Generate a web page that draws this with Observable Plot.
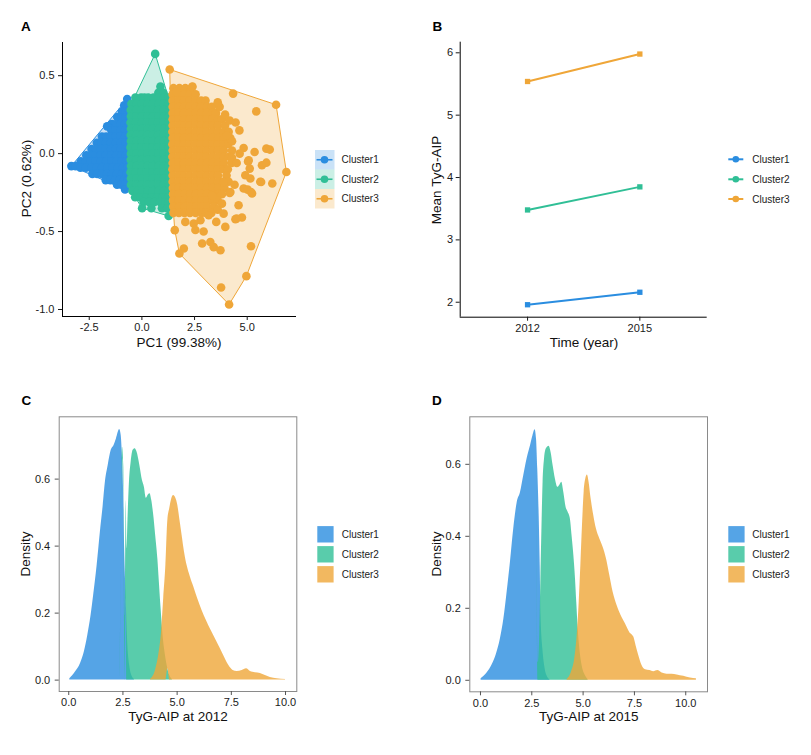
<!DOCTYPE html>
<html><head><meta charset="utf-8">
<script src="https://cdn.jsdelivr.net/npm/d3@7"></script>
<script src="https://cdn.jsdelivr.net/npm/@observablehq/plot@0.6"></script>
<style>
body{margin:0;background:#fff;}
#root{position:relative;width:811px;height:755px;background:#fff;overflow:hidden;}
.pane{position:absolute;}
#overlay{position:absolute;left:0;top:0;pointer-events:none;}
</style></head><body><div id="root"></div>
<script>
const clusters = ["Cluster1", "Cluster2", "Cluster3"];
const colors = ["#2A8DE0", "#30BF96", "#EFA638"];

// ---- Panel A: PCA scores, rows of [PC2, [PC1 values]] read from the dense masses ----
const cluster1Rows = [
  [0.35, [-0.70]],
  [0.31, [-0.84, -0.62]],
  [0.27, [-0.95, -0.78, -0.60]],
  [0.235, [-1.17]],
  [0.23, [-0.98, -0.79, -0.60]],
  [0.19, [-1.42, -1.22, -1.01, -0.80, -0.60]],
  [0.175, [-1.65]],
  [0.15, [-1.45, -1.24, -1.02, -0.80, -0.60]],
  [0.11, [-1.90, -1.70, -1.48, -1.25, -1.02, -0.80, -0.60]],
  [0.07, [-2.14, -1.93, -1.71, -1.48, -1.24, -1.00, -0.78, -0.60]],
  [0.03, [-2.39, -2.18, -1.95, -1.72, -1.47, -1.23, -0.99, -0.77, -0.60]],
  [-0.01, [-2.64, -2.43, -2.20, -1.96, -1.71, -1.46, -1.22, -0.98, -0.76, -0.60]],
  [-0.05, [-2.90, -2.68, -2.45, -2.21, -1.95, -1.70, -1.45, -1.21, -0.97, -0.75, -0.60]],
  [-0.08, [-3.35, -3.15]],
  [-0.09, [-2.92, -2.66, -2.40, -2.14, -1.89, -1.64, -1.39, -1.14, -0.90, -0.68]],
  [-0.13, [-2.35, -2.12, -1.90, -1.66, -1.42, -1.18, -0.94, -0.72]],
  [-0.17, [-1.72, -1.50, -1.28, -1.06, -0.86, -0.68]],
  [-0.20, [-1.18, -0.98, -0.80]],
  [-0.23, [-0.80]]
];
const cluster2Rows = [
  [0.64, [0.63]],
  [0.43, [0.88]],
  [0.39, [0.78, 1.02]],
  [0.36, [-0.31, -0.04, 0.12, 0.30, 0.55, 0.80, 1.05, 1.26]],
  [0.32, [-0.50, -0.26, 0.00, 0.26, 0.52, 0.78, 1.04, 1.28]],
  [0.28, [-0.53, -0.27, -0.01, 0.25, 0.51, 0.77, 1.03, 1.29]],
  [0.24, [-0.52, -0.26, 0.00, 0.26, 0.52, 0.78, 1.04, 1.28]],
  [0.20, [-0.54, -0.28, -0.02, 0.24, 0.50, 0.76, 1.02, 1.28]],
  [0.16, [-0.52, -0.26, 0.00, 0.26, 0.52, 0.78, 1.04, 1.30]],
  [0.12, [-0.53, -0.27, -0.01, 0.25, 0.51, 0.77, 1.03, 1.29]],
  [0.08, [-0.52, -0.26, 0.00, 0.26, 0.52, 0.78, 1.04, 1.28]],
  [0.04, [-0.54, -0.28, -0.02, 0.24, 0.50, 0.76, 1.02, 1.28]],
  [0.00, [-0.52, -0.26, 0.00, 0.26, 0.52, 0.78, 1.04, 1.30]],
  [-0.04, [-0.53, -0.27, -0.01, 0.25, 0.51, 0.77, 1.03, 1.29]],
  [-0.08, [-0.52, -0.26, 0.00, 0.26, 0.52, 0.78, 1.04, 1.28]],
  [-0.12, [-0.54, -0.28, -0.02, 0.24, 0.50, 0.76, 1.02, 1.28]],
  [-0.16, [-0.52, -0.26, 0.00, 0.26, 0.52, 0.78, 1.04, 1.30]],
  [-0.20, [-0.52, -0.27, -0.01, 0.25, 0.51, 0.77, 1.03, 1.29]],
  [-0.24, [-0.45, -0.22, 0.00, 0.26, 0.52, 0.78, 1.04, 1.28]],
  [-0.28, [-0.32, -0.07, 0.20, 0.46, 0.72, 0.98, 1.24]],
  [-0.31, [0.08, 0.34, 0.60, 0.86, 1.12, 1.28]],
  [-0.35, [0.01, 0.45, 0.95, 1.20]],
  [-0.40, [1.27]]
];
const cluster3Rows = [
  [0.54, [1.32]],
  [0.43, [2.40]],
  [0.42, [1.50, 1.78, 2.06]],
  [0.40, [1.62, 2.30]],
  [0.38, [1.46, 1.73, 2.00, 2.27, 2.55]],
  [0.34, [1.46, 1.73, 2.00, 2.27, 2.54, 2.81, 3.02]],
  [0.30, [1.46, 1.73, 2.00, 2.27, 2.54, 2.81, 3.08, 3.32]],
  [0.26, [1.46, 1.73, 2.00, 2.27, 2.54, 2.81, 3.08, 3.35, 3.52]],
  [0.22, [1.46, 1.73, 2.00, 2.27, 2.54, 2.81, 3.08, 3.35, 3.62, 3.80]],
  [0.18, [1.46, 1.73, 2.00, 2.27, 2.54, 2.81, 3.08, 3.35, 3.62, 3.95]],
  [0.14, [1.45, 1.72, 1.99, 2.26, 2.53, 2.80, 3.07, 3.34, 3.61, 3.88, 4.12]],
  [0.10, [1.46, 1.73, 2.00, 2.27, 2.54, 2.81, 3.08, 3.35, 3.62, 3.89, 4.20]],
  [0.06, [1.45, 1.72, 1.99, 2.26, 2.53, 2.80, 3.07, 3.34, 3.61, 3.88, 4.10]],
  [0.02, [1.46, 1.73, 2.00, 2.27, 2.54, 2.81, 3.08, 3.35, 3.62, 3.89, 4.28]],
  [-0.02, [1.45, 1.72, 1.99, 2.26, 2.53, 2.80, 3.07, 3.34, 3.61, 3.88, 4.14]],
  [-0.06, [1.46, 1.73, 2.00, 2.27, 2.54, 2.81, 3.08, 3.35, 3.62, 3.89, 4.26]],
  [-0.10, [1.45, 1.72, 1.99, 2.26, 2.53, 2.80, 3.07, 3.34, 3.61, 3.88, 4.08]],
  [-0.14, [1.46, 1.73, 2.00, 2.27, 2.54, 2.81, 3.08, 3.35, 3.62, 4.02]],
  [-0.18, [1.46, 1.72, 1.99, 2.26, 2.53, 2.80, 3.07, 3.34, 3.61, 3.87, 4.12]],
  [-0.22, [1.47, 1.73, 2.00, 2.27, 2.54, 2.81, 3.08, 3.35, 3.62, 3.92]],
  [-0.26, [1.48, 1.75, 2.02, 2.29, 2.56, 2.83, 3.10, 3.37, 3.62, 3.80]],
  [-0.30, [1.48, 1.75, 2.02, 2.29, 2.56, 2.83, 3.10, 3.37, 3.60]],
  [-0.34, [1.49, 1.76, 2.03, 2.30, 2.57, 2.84, 3.10, 3.42]],
  [-0.38, [1.50, 1.76, 2.02, 2.28, 2.55, 2.84, 3.05, 3.30]]
];
const cluster3Scattered = [
  [1.64, 0.395], [2.38, 0.427], [4.33, 0.385], [3.69, 0.30], [5.43, 0.271], [6.37, 0.314],
  [4.17, 0.213], [4.63, 0.149], [4.04, 0.118], [4.28, 0.079], [4.83, 0.036], [4.64, 0.0],
  [5.35, 0.01], [5.91, 0.032], [6.07, 0.026], [5.04, -0.05], [5.12, -0.096], [5.70, -0.075],
  [5.91, -0.058], [5.66, -0.182], [6.19, -0.192], [6.86, -0.118], [4.91, -0.139], [5.15, -0.16],
  [4.83, -0.224], [5.18, -0.246], [4.20, -0.246], [3.88, -0.182], [5.02, -0.231], [5.23, -0.256],
  [4.17, -0.252], [4.59, -0.331], [3.80, -0.321], [4.44, -0.421], [4.75, -0.41], [3.53, -0.438],
  [3.96, -0.47], [3.17, -0.395], [2.78, -0.427], [2.46, -0.449], [1.56, -0.491], [2.06, -0.438],
  [2.54, -0.49], [2.93, -0.50], [1.99, -0.609], [1.78, -0.641], [2.86, -0.577], [3.25, -0.567],
  [3.41, -0.60], [3.73, -0.62], [5.18, -0.594], [4.96, -0.786], [3.76, -0.859], [4.14, -0.968],
  [3.33, -0.267], [4.49, -0.417], [3.88, -0.385], [5.62, -0.18], [4.28, -0.026], [5.07, -0.043],
  [3.60, 0.33], [3.95, 0.25], [4.45, 0.20], [4.50, -0.06], [4.40, -0.20], [3.60, -0.36]
];

// ---- Panel B: mean TyG-AIP by year ----
const years = [2012, 2015];
const meanCluster1 = [1.96, 2.16];
const meanCluster2 = [3.48, 3.85];
const meanCluster3 = [5.54, 5.98];

// ---- Panels C and D: density curves, [value, density] ----
const dens2012Cluster1 = [[0.05,0.004],[0.31,0.024],[0.54,0.049],[0.72,0.084],[0.88,0.134],[1.03,0.193],[1.15,0.253],[1.31,0.342],[1.46,0.442],[1.59,0.521],[1.69,0.591],[1.82,0.641],[1.96,0.686],[2.08,0.699],[2.20,0.72],[2.35,0.748],[2.42,0.73],[2.48,0.661],[2.54,0.541],[2.58,0.392],[2.65,0.243],[2.72,0.113],[2.81,0.044],[2.94,0.009],[3.03,0.002]];
const dens2012Cluster2 = [[2.38,0.002],[2.48,0.034],[2.54,0.094],[2.60,0.193],[2.65,0.293],[2.69,0.392],[2.74,0.492],[2.80,0.591],[2.88,0.651],[2.97,0.686],[3.06,0.691],[3.15,0.681],[3.28,0.641],[3.40,0.596],[3.49,0.576],[3.58,0.543],[3.68,0.553],[3.75,0.556],[3.83,0.536],[3.92,0.492],[4.01,0.432],[4.11,0.362],[4.18,0.292],[4.26,0.213],[4.35,0.133],[4.46,0.074],[4.57,0.034],[4.69,0.009],[4.78,0.002]];
const dens2012Cluster3 = [[3.77,0.002],[4.00,0.029],[4.15,0.074],[4.28,0.143],[4.38,0.243],[4.48,0.342],[4.57,0.442],[4.66,0.512],[4.75,0.541],[4.84,0.551],[4.94,0.543],[5.03,0.522],[5.12,0.482],[5.23,0.432],[5.34,0.382],[5.46,0.342],[5.61,0.308],[5.77,0.278],[5.95,0.243],[6.15,0.208],[6.35,0.178],[6.57,0.148],[6.78,0.121],[6.99,0.094],[7.18,0.069],[7.38,0.044],[7.58,0.029],[7.77,0.026],[8.00,0.029],[8.20,0.034],[8.38,0.026],[8.61,0.022],[8.84,0.020],[9.07,0.014],[9.30,0.008],[9.61,0.004],[10.0,0.002]];
const dens2015Cluster1 = [[0.03,0.004],[0.32,0.02],[0.57,0.043],[0.78,0.073],[0.97,0.115],[1.14,0.17],[1.30,0.245],[1.46,0.328],[1.62,0.42],[1.79,0.494],[1.95,0.522],[2.11,0.569],[2.27,0.615],[2.44,0.652],[2.56,0.68],[2.66,0.696],[2.73,0.67],[2.79,0.587],[2.86,0.457],[2.91,0.318],[2.95,0.18],[3.04,0.087],[3.15,0.032],[3.28,0.008],[3.38,0.002]];
const dens2015Cluster2 = [[2.73,0.002],[2.82,0.05],[2.89,0.133],[2.94,0.272],[2.99,0.411],[3.05,0.55],[3.12,0.615],[3.21,0.643],[3.34,0.65],[3.44,0.633],[3.54,0.596],[3.65,0.559],[3.77,0.536],[3.86,0.541],[3.96,0.55],[4.06,0.522],[4.17,0.481],[4.27,0.467],[4.38,0.448],[4.46,0.402],[4.55,0.346],[4.63,0.281],[4.69,0.217],[4.76,0.143],[4.84,0.087],[4.95,0.041],[5.11,0.013],[5.24,0.002]];
const dens2015Cluster3 = [[4.22,0.002],[4.43,0.022],[4.59,0.059],[4.71,0.124],[4.81,0.217],[4.89,0.319],[4.97,0.43],[5.05,0.522],[5.13,0.559],[5.21,0.57],[5.29,0.55],[5.39,0.504],[5.52,0.457],[5.65,0.42],[5.81,0.393],[5.97,0.37],[6.14,0.337],[6.30,0.291],[6.46,0.245],[6.66,0.207],[6.85,0.18],[7.06,0.157],[7.27,0.133],[7.47,0.12],[7.58,0.096],[7.71,0.069],[7.87,0.041],[8.04,0.029],[8.25,0.027],[8.44,0.024],[8.64,0.027],[8.85,0.02],[9.09,0.017],[9.33,0.017],[9.58,0.015],[9.90,0.011],[10.23,0.006],[10.52,0.004]];

// ---- tables built from the arrays ----
const rowsToPoints = (rows, cluster) => rows.flatMap(([y, xs]) => xs.map(x => ({pc1: x, pc2: y, cluster})));
const pcaPoints = [
  ...rowsToPoints(cluster1Rows, "Cluster1"),
  ...rowsToPoints(cluster2Rows, "Cluster2"),
  ...rowsToPoints(cluster3Rows, "Cluster3"),
  ...cluster3Scattered.map(([x, y]) => ({pc1: x, pc2: y, cluster: "Cluster3"}))
];
const meanTable = [meanCluster1, meanCluster2, meanCluster3].flatMap((vals, i) =>
  vals.map((v, j) => ({year: years[j], value: v, cluster: clusters[i]})));
const toDens = (arrs) => arrs.flatMap((a, i) => a.map(([x, y]) => ({x, y, cluster: clusters[i]})));
const dens2012 = toDens([dens2012Cluster1, dens2012Cluster2, dens2012Cluster3]);
const dens2015 = toDens([dens2015Cluster1, dens2015Cluster2, dens2015Cluster3]);

const FONT = "'Liberation Sans', Arial, Helvetica, sans-serif";
const baseStyle = {fontFamily: FONT, fontSize: "11px", color: "#1a1a1a", background: "transparent", overflow: "visible"};
const colorScale = {domain: clusters, range: colors};
const fmt1 = d => d.toFixed(1);

const root = document.getElementById("root");
function place(svg, left, top) {
  const div = document.createElement("div");
  div.className = "pane";
  div.style.left = left + "px";
  div.style.top = top + "px";
  div.appendChild(svg);
  root.appendChild(div);
}

// Panel A
const xA = [-3.77, 7.34], yA = [-1.045, 0.713];
place(Plot.plot({
  width: 400, height: 370, marginLeft: 62, marginRight: 104, marginTop: 42, marginBottom: 54,
  style: baseStyle,
  x: {domain: xA}, y: {domain: yA},
  color: colorScale,
  marks: [
    Plot.hull(pcaPoints, {x: "pc1", y: "pc2", fill: "cluster", stroke: "cluster", fillOpacity: 0.25, strokeWidth: 1}),
    Plot.dot(pcaPoints, {x: "pc1", y: "pc2", fill: "cluster", r: 4.3}),
    Plot.ruleX([xA[0]], {stroke: "#000", strokeWidth: 1}),
    Plot.ruleY([yA[0]], {stroke: "#000", strokeWidth: 1}),
    Plot.axisX({ticks: [-2.5, 0, 2.5, 5], tickFormat: fmt1, tickSize: 4, tickPadding: 3, label: null}),
    Plot.axisY({ticks: [-1, -0.5, 0, 0.5], tickFormat: fmt1, tickSize: 4, tickPadding: 4, label: null})
  ]
}), 0, 0);

// Panel B
const xB = [2010.2, 2016.8], yB = [1.76, 6.17];
place(Plot.plot({
  width: 405, height: 370, marginLeft: 54.7, marginRight: 103.3, marginTop: 41.7, marginBottom: 53.3,
  style: baseStyle,
  x: {domain: xB}, y: {domain: yB},
  color: colorScale,
  marks: [
    Plot.line(meanTable, {x: "year", y: "value", stroke: "cluster", strokeWidth: 2}),
    Plot.dot(meanTable, {x: "year", y: "value", fill: "cluster", symbol: "square", r: 3}),
    Plot.ruleX([xB[0]], {stroke: "#000", strokeWidth: 1}),
    Plot.ruleY([yB[0]], {stroke: "#000", strokeWidth: 1}),
    Plot.axisX({ticks: years, tickFormat: d => String(d), tickSize: 4, tickPadding: 3, label: null}),
    Plot.axisY({ticks: [2, 3, 4, 5, 6], tickFormat: d => String(d), tickSize: 4, tickPadding: 3, label: null})
  ]
}), 405, 0);

// Panels C and D
function densityPanel(data, xd, yd, m) {
  return Plot.plot({
    width: m.w, height: 375, marginLeft: m.l, marginRight: m.r, marginTop: 41.3, marginBottom: m.b,
    style: baseStyle,
    x: {domain: xd}, y: {domain: yd},
    color: colorScale,
    marks: [
      Plot.areaY(data, {x: "x", y: "y", fill: "cluster", fillOpacity: 0.8, curve: "monotone-x"}),
      Plot.frame({stroke: "#8a8a8a", strokeWidth: 1}),
      Plot.axisX({ticks: [0, 2.5, 5, 7.5, 10], tickFormat: fmt1, tickSize: 4, tickPadding: 3, stroke: "#555", label: null}),
      Plot.axisY({ticks: [0, 0.2, 0.4, 0.6], tickFormat: fmt1, tickSize: 4, tickPadding: 5, stroke: "#555", label: null})
    ]
  });
}
place(densityPanel(dens2012, [-0.44, 10.52], [-0.034, 0.786], {w: 400, l: 58.7, r: 103.7, b: 59}), 0, 375);
place(densityPanel(dens2015, [-0.52, 11.06], [-0.032, 0.732], {w: 405, l: 64.3, r: 103, b: 58.7}), 405, 375);

// ---- overlay: panel tags, axis titles, legends ----
const ov = d3.select(root).append("svg").attr("id", "overlay").attr("width", 811).attr("height", 755)
  .style("font-family", FONT);
const tags = [["A", 21, 31], ["B", 432.5, 31], ["C", 21.5, 405], ["D", 432, 405]];
tags.forEach(([t, x, y]) => ov.append("text").attr("x", x).attr("y", y).attr("font-size", 13.5)
  .attr("font-weight", "bold").attr("fill", "#000").text(t));
const titles = [
  ["PC1 (99.38%)", 179, 346.7, 0], ["PC2 (0.62%)", 30.5, 178.5, -90],
  ["Time (year)", 584, 346.7, 0], ["Mean TyG-AIP", 441, 180, -90],
  ["TyG-AIP at 2012", 178, 721, 0], ["Density", 30, 554, -90],
  ["TyG-AIP at 2015", 588.7, 721, 0], ["Density", 441, 554, -90]
];
titles.forEach(([t, x, y, r]) => ov.append("text").attr("transform", `translate(${x},${y}) rotate(${r})`)
  .attr("text-anchor", "middle").attr("font-size", 13.5).attr("fill", "#111").text(t));

function legendLabels(x, ys) {
  clusters.forEach((c, i) => ov.append("text").attr("x", x).attr("y", ys[i]).attr("dy", "0.35em")
    .attr("font-size", 10).attr("fill", "#222").text(c));
}
// Legend A: hull fill + line + dot
const legA = [159.75, 179.25, 198.75];
clusters.forEach((c, i) => {
  const g = ov.append("g");
  g.append("rect").attr("x", 315).attr("y", legA[i] - 9.75).attr("width", 19.5).attr("height", 19.5)
    .attr("fill", colors[i]).attr("fill-opacity", 0.25);
  g.append("line").attr("x1", 316.5).attr("x2", 332.5).attr("y1", legA[i]).attr("y2", legA[i])
    .attr("stroke", colors[i]).attr("stroke-width", 1.6);
  g.append("circle").attr("cx", 324.5).attr("cy", legA[i]).attr("r", 3.8).attr("fill", colors[i]);
});
legendLabels(341.5, legA);
// Legend B: line + dot
const legB = [159.3, 179.3, 199];
clusters.forEach((c, i) => {
  ov.append("line").attr("x1", 728.3).attr("x2", 743.3).attr("y1", legB[i]).attr("y2", legB[i])
    .attr("stroke", colors[i]).attr("stroke-width", 2);
  ov.append("circle").attr("cx", 735.8).attr("cy", legB[i]).attr("r", 3.3).attr("fill", colors[i]);
});
legendLabels(752.3, legB);
// Legends C and D: filled keys
const legCD = [534.3, 554.3, 574.3];
[[317.3, 341.7], [728.3, 752.3]].forEach(([kx, lx]) => {
  clusters.forEach((c, i) => ov.append("rect").attr("x", kx).attr("y", legCD[i] - 8.2)
    .attr("width", 16.3).attr("height", 16.4).attr("fill", colors[i]).attr("fill-opacity", 0.8));
  legendLabels(lx, legCD);
});
</script>
</body></html>
